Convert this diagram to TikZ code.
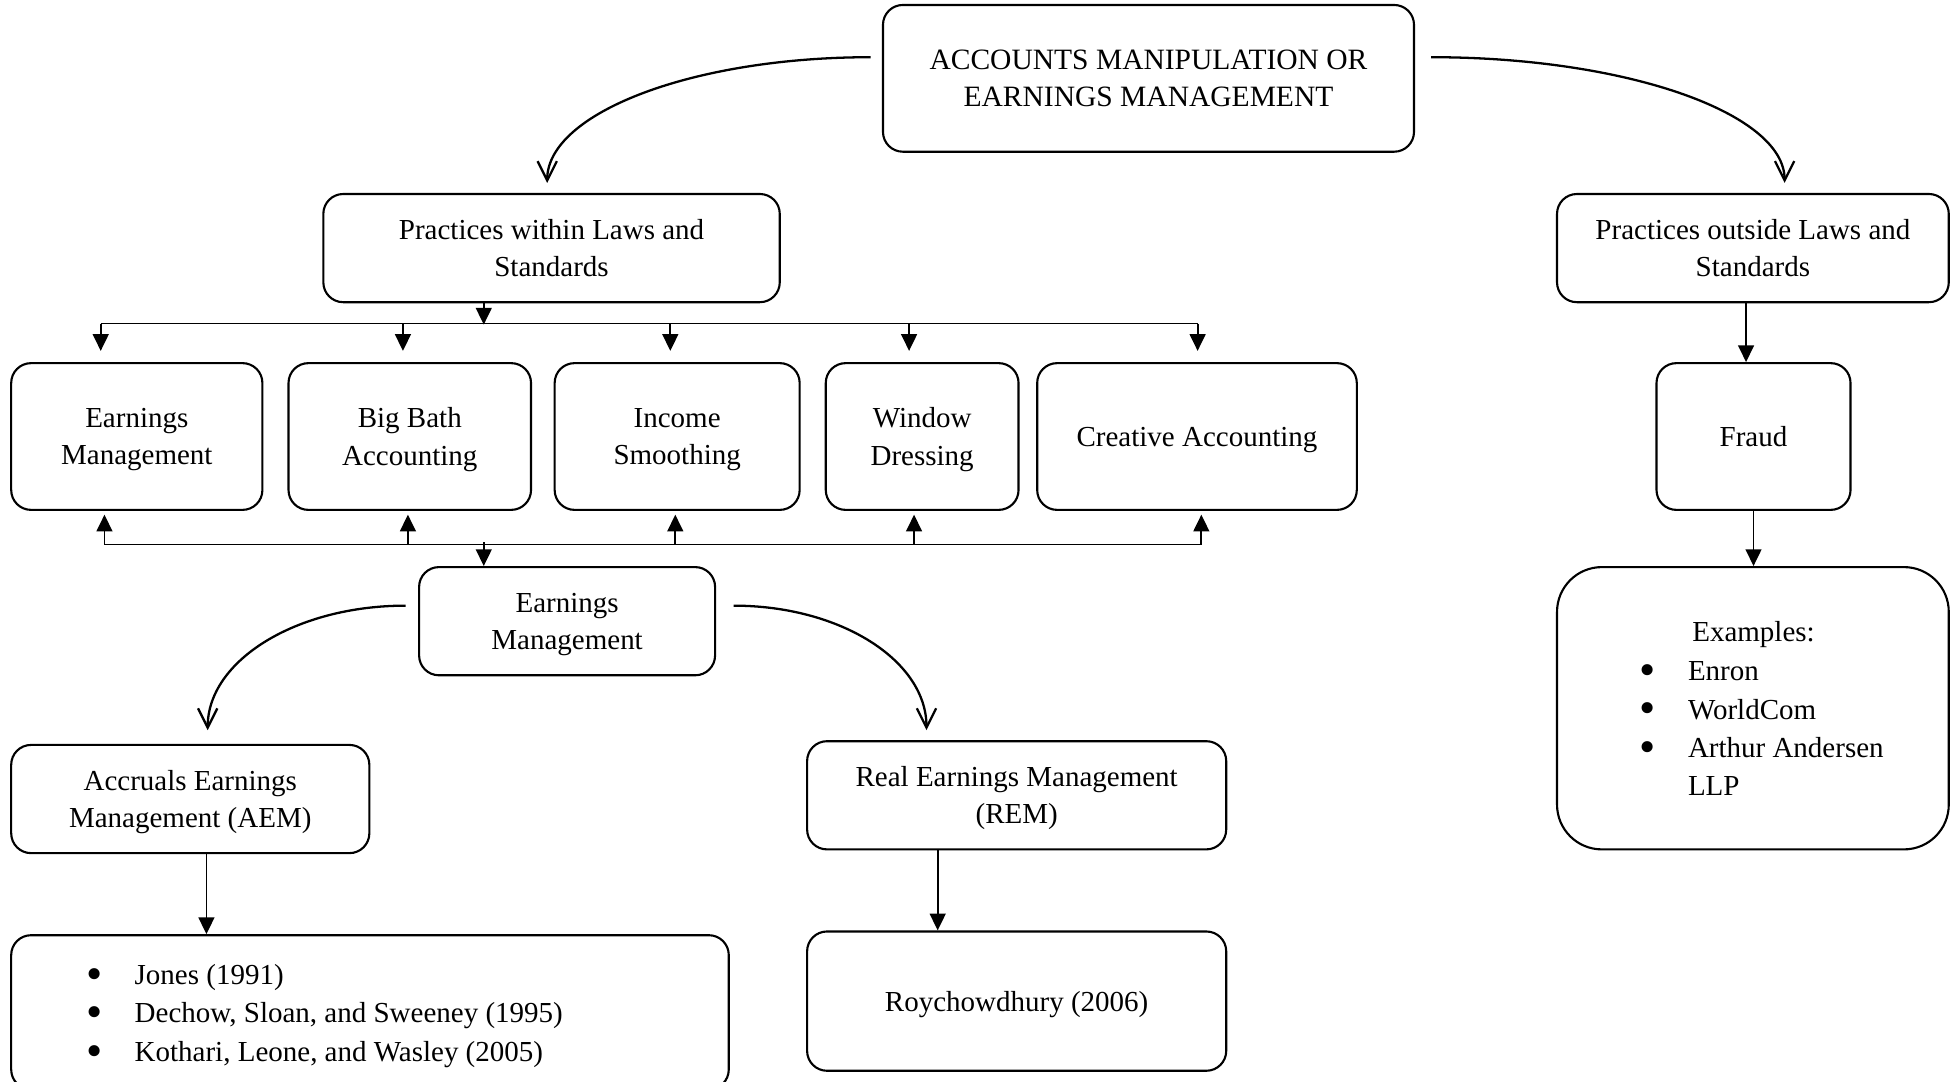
\documentclass[tikz,border=0pt]{standalone}
\usepackage{fontspec}
\setmainfont{Liberation Serif}
\usepackage{graphicx}
\usepackage{tikz}
\usetikzlibrary{arrows.meta}

\newcommand{\itembul}{\makebox[26.2pt][l]{\hspace{-1.4pt}\smash{\raisebox{-0.17em}{\scalebox{1.6}{•}}}}}

\tikzset{
  box/.style 2 args={draw, rounded corners=11.3pt, line width=1.2pt, align=center, text depth=0pt,
    minimum width=#1*0.2487mm, minimum height=#2*0.2487mm},
  txt/.style={align=left, font=\fontsize{16.5}{21.9}\selectfont},
  link/.style={line width=1pt, -{Triangle[length=9.5pt,width=9pt]}},
  curvelink/.style={line width=1.3pt, -{Straight Barb[length=11pt,width=11pt]}},
  bus/.style={line width=1pt},
}

\begin{document}
\begin{tikzpicture}[x=0.2487mm, y=0.2487mm, font=\fontsize{16.5}{21.2}\selectfont]
\tikzstyle{every node}+=[inner sep=0pt]
\useasboundingbox (0,0) rectangle (1568,-870);
% boxes
\node [box={427}{118}, font=\fontsize{16.8}{21.2}\selectfont] (acc) at (923.5,-63) {ACCOUNTS MANIPULATION OR\\EARNINGS MANAGEMENT};
\node [box={367}{87}] (within) at (443.5,-199.5) {Practices within Laws and\\Standards};
\node [box={315}{87}] (outside) at (1409.5,-199.5) {Practices outside Laws and\\Standards};
\node [box={202}{118}] (em) at (110,-351) {Earnings\\Management};
\node [box={195}{118}] (bba) at (329.5,-351) {Big Bath\\Accounting};
\node [box={197}{118}] (ins) at (544.5,-351) {Income\\Smoothing};
\node [box={155}{118}] (wd) at (741.5,-351) {Window\\Dressing};
\node [box={257}{118}] (ca) at (962.5,-351) {Creative Accounting};
\node [box={156}{118}] (fraud) at (1410,-351) {Fraud};
\node [box={238}{87}] (mid) at (456,-499.5) {Earnings\\Management};
\node [box={288}{87}] (aem) at (153,-642.5) {Accruals Earnings\\Management (AEM)};
\node [box={337}{87}] (rem) at (817.5,-639.5) {Real Earnings Management\\(REM)};
\node [box={577}{124}] (aemlit) at (297.5,-814) {};
\node [box={337}{112}] (remlit) at (817.5,-805) {Roychowdhury (2006)};
\node [box={315}{227}, rounded corners=25.5pt] (cases) at (1409.5,-569.5) {};
% list texts
\node [txt, anchor=west] (aemlist) at (71,-817) {\itembul Jones (1991)\\\itembul Dechow, Sloan, and Sweeney (1995)\\\itembul Kothari, Leone, and Wasley (2005)};
\node (caseshead) at (1410,-510) {Examples:};
\node [txt, anchor=west] (caselist) at (1320,-586) {\itembul Enron\\\itembul WorldCom\\\itembul Arthur Andersen\\\makebox[26.2pt]{}LLP};
% curved connectors
\draw [curvelink] ([shift={(-9,17)}]acc.west) .. controls +(-144,0) and +(0,56) .. ([shift={(-3.5,8)}]within.north);
\draw [curvelink] ([shift={(13,17)}]acc.east) .. controls +(157,0) and +(0,56) .. ([shift={(25.5,8)}]outside.north);
\draw [curvelink] ([shift={(-10,12.5)}]mid.west) .. controls +(-88,0) and +(0,56) .. ([shift={(14,11)}]aem.north);
\draw [curvelink] ([shift={(14,12.5)}]mid.east) .. controls +(86,0) and +(0,56) .. ([shift={(-72.5,8)}]rem.north);
% upper bus
\coordinate (wout) at ([shift={(-54.5,0)}]within.south);
\coordinate (upbus) at (0,-261);
\draw [link] (wout) -- (wout |- upbus);
\draw [bus] ([shift={(-29,31)}]em.north) -- ([shift={(0.5,31)}]ca.north);
\foreach \n/\dx in {em/-29, bba/-5.5, ins/-5.5, wd/-10.5, ca/0.5}
  \draw [link] ([shift={(\dx,31)}]\n.north) -- ([shift={(\dx,9)}]\n.north);
% lower bus
\draw [bus] ([shift={(-26,-27)}]em.south) -- ([shift={(3.5,-27)}]ca.south);
\foreach \n/\dx in {em/-26, bba/-1.5, ins/-1.5, wd/-6.5, ca/3.5}
  \draw [link] ([shift={(\dx,-27)}]\n.south) -- ([shift={(\dx,-3)}]\n.south);
\draw [link] ([shift={(-67,19)}]mid.north) -- ([shift={(-67,0)}]mid.north);
% straight connectors
\draw [link] ([shift={(-5.5,0)}]outside.south) -- ([shift={(-6,0)}]fraud.north);
\draw [link] (fraud.south) -- (fraud.south |- cases.north);
\draw [link] ([shift={(13,0)}]aem.south) -- ([shift={(-131.5,0)}]aemlit.north);
\draw [link] ([shift={(-63.5,0)}]rem.south) -- ([shift={(-63.5,0)}]remlit.north);
\end{tikzpicture}
\end{document}
